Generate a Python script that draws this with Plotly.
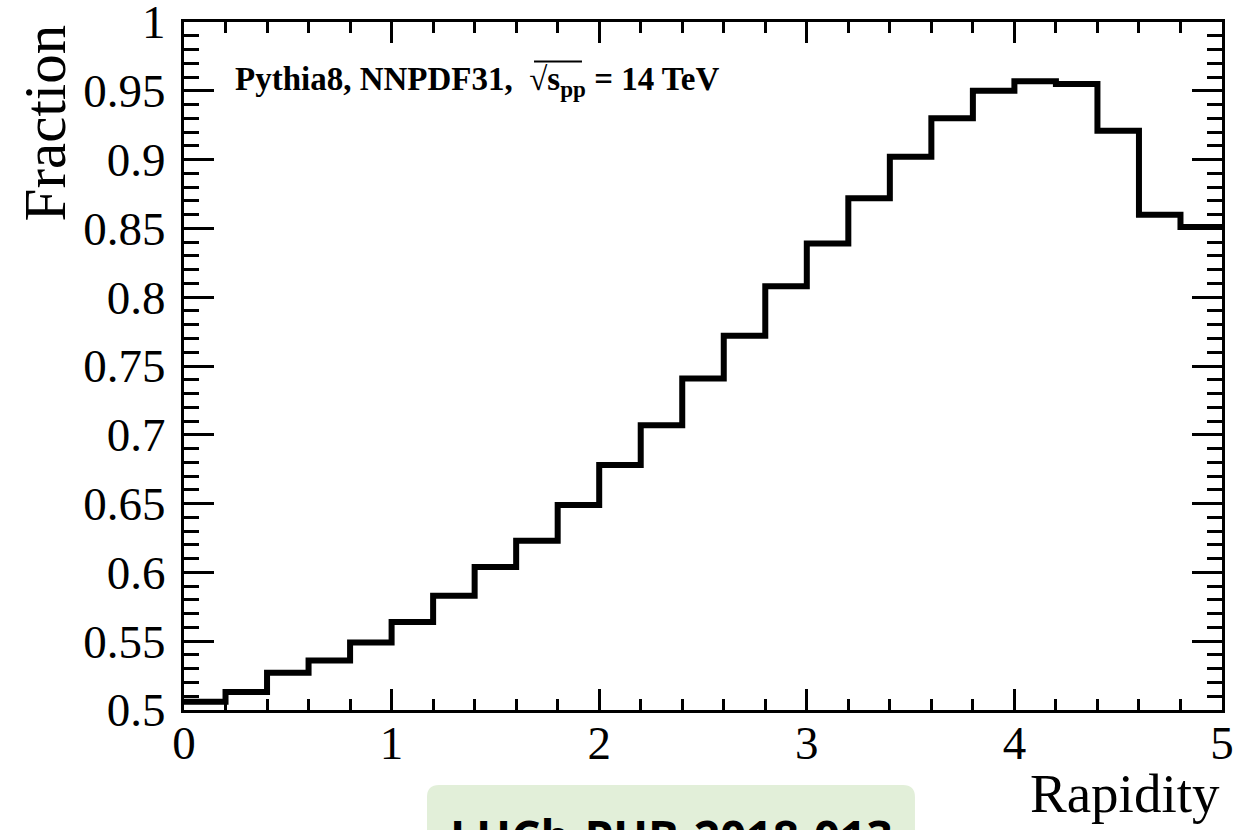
import plotly.graph_objects as go

# ---- data ----
bin_edges = [0.0, 0.2, 0.4, 0.6, 0.8, 1.0, 1.2, 1.4, 1.6, 1.8, 2.0, 2.2, 2.4,
             2.6, 2.8, 3.0, 3.2, 3.4, 3.6, 3.8, 4.0, 4.2, 4.4, 4.6, 4.8, 5.0]
fraction = [0.506, 0.513, 0.527, 0.536, 0.549, 0.564, 0.583, 0.604, 0.623,
            0.649, 0.678, 0.707, 0.741, 0.772, 0.808, 0.839, 0.872, 0.902,
            0.930, 0.950, 0.957, 0.955, 0.921, 0.860, 0.851]
x_tick_vals = [0, 1, 2, 3, 4, 5]
x_tick_text = ["0", "1", "2", "3", "4", "5"]
y_tick_vals = [0.5, 0.55, 0.6, 0.65, 0.7, 0.75, 0.8, 0.85, 0.9, 0.95, 1.0]
y_tick_text = ["0.5", "0.55", "0.6", "0.65", "0.7", "0.75", "0.8", "0.85",
               "0.9", "0.95", "1"]

SERIF = "Liberation Serif"

fig = go.Figure()
fig.add_trace(go.Scatter(
    x=bin_edges,
    y=fraction + [fraction[-1]],
    mode="lines",
    line=dict(shape="hv", color="black", width=6),
    hoverinfo="skip",
    showlegend=False,
))

axis_common = dict(
    showline=True, linecolor="black", linewidth=3, mirror="allticks",
    ticks="inside", tickcolor="black", tickwidth=3,
    showgrid=False, zeroline=False, ticklabeloverflow="allow",
    automargin=False,
    tickfont=dict(family=SERIF, size=47, color="black"),
)

fig.update_xaxes(
    range=[0, 5], tickvals=x_tick_vals, ticktext=x_tick_text, ticklen=21,
    minor=dict(ticks="inside", dtick=0.2, ticklen=11, tickwidth=3,
               tickcolor="black", showgrid=False),
    ticklabelstandoff=-10,
    **axis_common,
)
fig.update_yaxes(
    range=[0.5, 1.0], tickvals=y_tick_vals, ticktext=y_tick_text, ticklen=30,
    minor=dict(ticks="inside", dtick=0.01, ticklen=15, tickwidth=3,
               tickcolor="black", showgrid=False),
    ticklabelstandoff=6,
    **axis_common,
)

# box in lower middle
x0, x1, y0, y1 = 0.2341, 0.7042, -0.30, -0.1091
rx, ry = 0.0116, 0.0175
path = (f"M {x0+rx},{y1} L {x1-rx},{y1} Q {x1},{y1} {x1},{y1-ry} "
        f"L {x1},{y0} L {x0},{y0} L {x0},{y1-ry} Q {x0},{y1} {x0+rx},{y1} Z")
fig.add_shape(type="path", path=path, xref="paper", yref="paper",
              fillcolor="#E2EFD9", line=dict(width=0), layer="below")

# overbar of the sqrt sign
fig.add_shape(type="line", xref="paper", yref="paper",
              x0=0.3372, x1=0.3834, y0=0.9425, y1=0.9425,
              line=dict(color="black", width=2))

fig.update_layout(
    width=1248, height=830,
    margin=dict(l=184, r=26, t=22, b=120),
    paper_bgcolor="white", plot_bgcolor="white",
    annotations=[
        dict(text="Fraction", xref="paper", yref="paper", x=-0.134, y=1.0,
             xanchor="center", yanchor="top", textangle=-90, showarrow=False,
             font=dict(family=SERIF, size=59, color="black")),
        dict(text="Rapidity", xref="paper", yref="paper", x=1.0, y=-0.121,
             xanchor="right", yanchor="middle", showarrow=False,
             font=dict(family=SERIF, size=55, color="black")),
        dict(text="<b>Pythia8, NNPDF31,  √s<sub>pp</sub> = 14 TeV</b>",
             xref="paper", yref="paper", x=0.047, y=0.914,
             xanchor="left", yanchor="middle", showarrow=False,
             font=dict(family=SERIF, size=33, color="black")),
        dict(text="<b>LHCb-PUB-2018-013</b>", xref="paper", yref="paper",
             x=0.4692, y=-0.135, xanchor="center", yanchor="top",
             showarrow=False,
             font=dict(family="Open Sans", size=46, color="black")),
    ],
)

fig.write_html("out.html")
